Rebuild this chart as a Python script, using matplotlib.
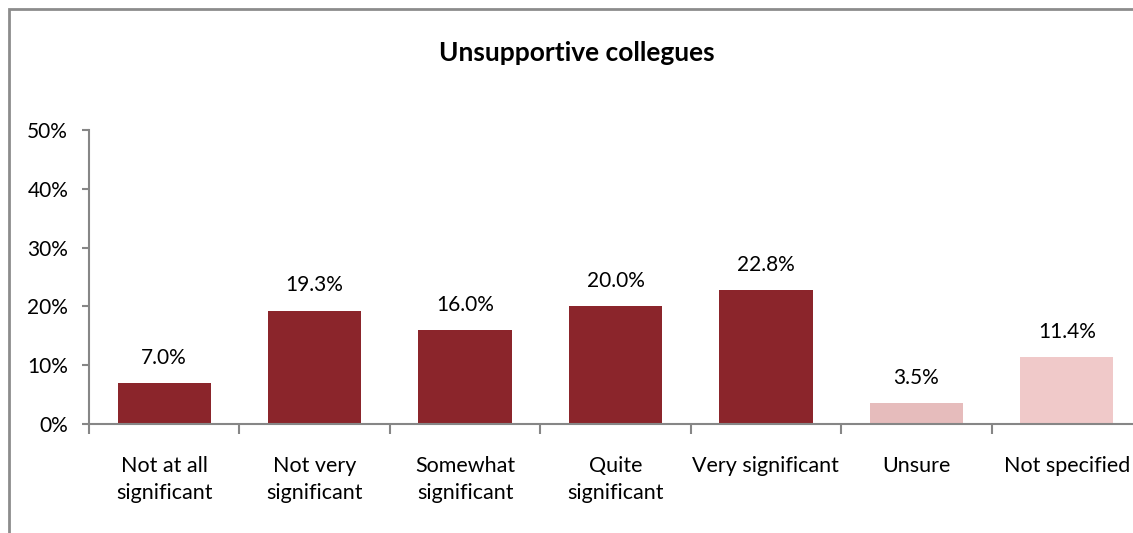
import matplotlib.pyplot as plt
from matplotlib.patches import Rectangle

plt.rcParams['font.family'] = ['Lato', 'DejaVu Sans']

categories = ['Not at all\nsignificant', 'Not very\nsignificant', 'Somewhat\nsignificant',
              'Quite\nsignificant', 'Very significant', 'Unsure', 'Not specified']
values = [7.0, 19.3, 16.0, 20.0, 22.8, 3.5, 11.4]
colors = ['#8b252b'] * 5 + ['#e6bcbc', '#f0c9c9']

W, H = 1133, 533
fig = plt.figure(figsize=(W / 100, H / 100), dpi=100)

# outer chart frame (runs off the right and bottom edges)
fig.patches.append(Rectangle((8.5 / W, -0.05), 1.2, 1 - 9 / H + 0.05,
                             transform=fig.transFigure, fill=False,
                             edgecolor='#8c8c8c', linewidth=2))

ax = fig.add_axes([89 / W, 1 - 424 / H, (1142 - 89) / W, (424 - 130) / H])
x = range(len(values))
ax.bar(x, values, width=0.62, color=colors)

for i, v in enumerate(values):
    ax.annotate('%.1f%%' % v, (i, v), xytext=(0, 11), textcoords='offset points',
                ha='center', va='bottom', fontsize=15)

ax.set_xlim(-0.5, len(values) - 0.5)
ax.set_ylim(0, 50)
ax.set_yticks(range(0, 51, 10))
ax.set_yticklabels(['%d%%' % t for t in range(0, 51, 10)], fontsize=15)
ax.set_xticks([i - 0.5 for i in range(len(values) + 1)])
ax.set_xticklabels([])
ax.set_xticks(list(x), minor=True)
ax.set_xticklabels(categories, minor=True, fontsize=15.5, linespacing=1.45)
ax.tick_params(axis='x', which='major', length=7, color='#868686', width=1.5)
ax.tick_params(axis='x', which='minor', length=0, pad=23)
ax.tick_params(axis='y', length=5, color='#868686', width=1.5, pad=10)

for s in ('top', 'right'):
    ax.spines[s].set_visible(False)
for s in ('left', 'bottom'):
    ax.spines[s].set_color('#868686')
    ax.spines[s].set_linewidth(1.5)

fig.text(577 / W, 1 - 53 / H, 'Unsupportive collegues', ha='center', va='center',
         fontsize=19, fontweight='bold')

fig.savefig('out.png', dpi=100)
